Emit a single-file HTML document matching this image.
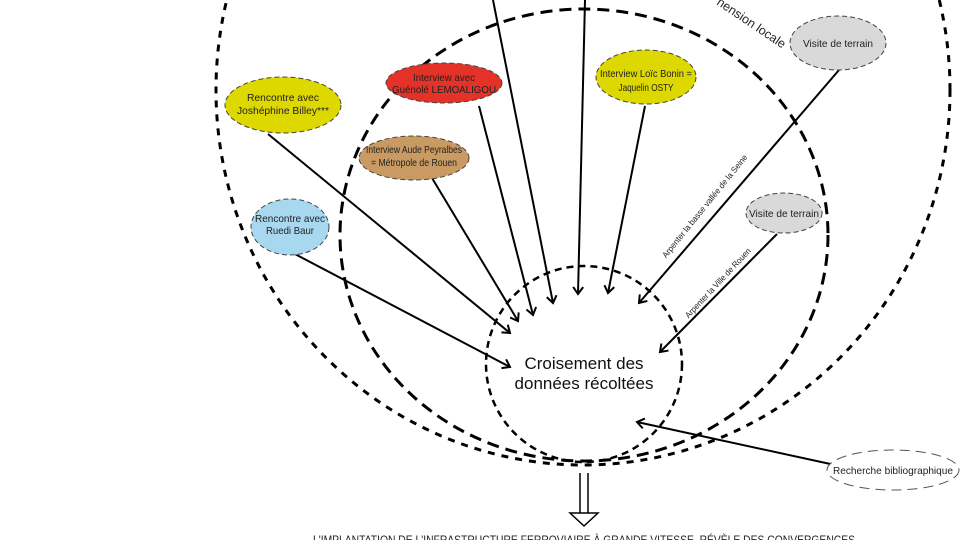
<!DOCTYPE html>
<html><head><meta charset="utf-8">
<style>
html,body{margin:0;padding:0;background:#fff;}
svg{display:block;}
text{font-family:"Liberation Sans",sans-serif;}
</style></head>
<body>
<svg width="960" height="540" viewBox="0 0 960 540" xmlns="http://www.w3.org/2000/svg">
<defs>
<marker id="a" markerWidth="12" markerHeight="12" refX="9" refY="6" orient="auto" markerUnits="userSpaceOnUse">
<path d="M2,1 L9,6 L2,11" fill="none" stroke="#000" stroke-width="2"/>
</marker>
</defs>
<ellipse cx="583" cy="90" rx="367" ry="375" fill="none" stroke="#000" stroke-width="3" stroke-dasharray="7,7"/>
<ellipse cx="584" cy="235" rx="244" ry="226" fill="none" stroke="#000" stroke-width="3" stroke-dasharray="12,7"/>
<circle cx="584" cy="364" r="98" fill="none" stroke="#000" stroke-width="2.5" stroke-dasharray="7,5"/>
<text x="0" y="0" font-size="12.5" fill="#222" transform="translate(716,4) rotate(34)">hension locale</text>

<g stroke="#000" stroke-width="2" fill="none" marker-end="url(#a)">
<line x1="493" y1="0" x2="553" y2="303"/>
<line x1="585" y1="0" x2="578" y2="294"/>
<line x1="479" y1="106" x2="533" y2="315"/>
<line x1="432" y1="178" x2="518" y2="321"/>
<line x1="268" y1="134" x2="510" y2="333"/>
<line x1="293" y1="253" x2="510" y2="367"/>
<line x1="645" y1="106" x2="608" y2="293"/>
<line x1="839" y1="70" x2="639" y2="303"/>
<line x1="777" y1="234" x2="660" y2="352"/>
<line x1="835" y1="465" x2="637" y2="422"/>
</g>

<g stroke="#444" stroke-width="1" stroke-dasharray="5,3">
<ellipse cx="283" cy="105" rx="58" ry="28" fill="#dcd800"/>
<ellipse cx="444" cy="83" rx="58" ry="20" fill="#e53228"/>
<ellipse cx="414" cy="158" rx="55" ry="22" fill="#c99a62"/>
<ellipse cx="290" cy="227" rx="39" ry="28" fill="#a8d8f0"/>
<ellipse cx="646" cy="77" rx="50" ry="27" fill="#dcd800"/>
<ellipse cx="838" cy="43" rx="48" ry="27" fill="#d9d9d9"/>
<ellipse cx="784" cy="213" rx="38" ry="20" fill="#d9d9d9"/>
</g>
<ellipse cx="893" cy="470" rx="66" ry="20" fill="#fff" stroke="#555" stroke-width="1" stroke-dasharray="10,6"/>

<g font-size="10.5" fill="#222" text-anchor="middle" lengthAdjust="spacingAndGlyphs">
<text x="283" y="101" textLength="72" lengthAdjust="spacingAndGlyphs">Rencontre avec</text>
<text x="283" y="114" textLength="92" lengthAdjust="spacingAndGlyphs">Joshéphine Billey***</text>
<text x="444" y="81" textLength="62" lengthAdjust="spacingAndGlyphs">Interview avec</text>
<text x="444" y="93" textLength="104" lengthAdjust="spacingAndGlyphs">Guénolé LEMOALIGOU</text>
<text x="414" y="153" textLength="96" lengthAdjust="spacingAndGlyphs">Interview Aude Peyralbes</text>
<text x="414" y="166" textLength="86" lengthAdjust="spacingAndGlyphs">= Métropole de Rouen</text>
<text x="290" y="222" textLength="70" lengthAdjust="spacingAndGlyphs">Rencontre avec</text>
<text x="290" y="234" textLength="48" lengthAdjust="spacingAndGlyphs">Ruedi Baur</text>
<text x="646" y="77" textLength="92" lengthAdjust="spacingAndGlyphs">Interview Loïc Bonin =</text>
<text x="646" y="91" textLength="55" lengthAdjust="spacingAndGlyphs">Jaquelin OSTY</text>
<text x="838" y="47" textLength="70" lengthAdjust="spacingAndGlyphs">Visite de terrain</text>
<text x="784" y="217" textLength="70" lengthAdjust="spacingAndGlyphs">Visite de terrain</text>
<text x="893" y="474" textLength="120" lengthAdjust="spacingAndGlyphs">Recherche bibliographique</text>
</g>
<text font-size="8.5" fill="#222" text-anchor="middle" transform="translate(707,208) rotate(-51)" textLength="130" lengthAdjust="spacingAndGlyphs">Arpenter la basse vallée de la Seine</text>
<text font-size="8.5" fill="#222" text-anchor="middle" transform="translate(720,285) rotate(-47)" textLength="92" lengthAdjust="spacingAndGlyphs">Arpenter la Ville de Rouen</text>

<text x="584" y="369" font-size="17" fill="#111" text-anchor="middle">Croisement des</text>
<text x="584" y="389" font-size="17" fill="#111" text-anchor="middle">données récoltées</text>

<line x1="580" y1="473" x2="580" y2="513" stroke="#000" stroke-width="1.5"/>
<line x1="588" y1="473" x2="588" y2="513" stroke="#000" stroke-width="1.5"/>
<polygon points="570,513 598,513 584,526" fill="#fff" stroke="#000" stroke-width="1.5"/>
<text x="313" y="544" font-size="12" fill="#222" textLength="542" lengthAdjust="spacingAndGlyphs">L'IMPLANTATION DE L'INFRASTRUCTURE FERROVIAIRE À GRANDE VITESSE, RÉVÈLE DES CONVERGENCES</text>
</svg>
</body></html>
